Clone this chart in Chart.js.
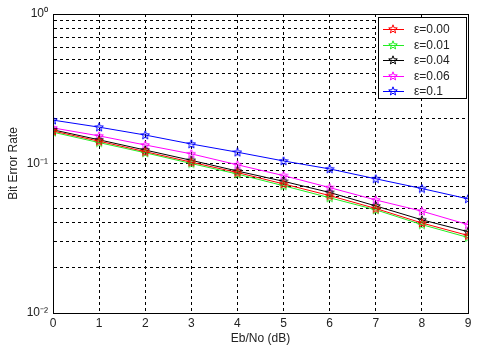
<!DOCTYPE html>
<html>
<head>
<meta charset="utf-8">
<script src="https://cdn.jsdelivr.net/npm/chart.js@4"></script>
<style>
  html, body { margin: 0; padding: 0; background: #fff; }
  #wrap { width: 477px; height: 347px; }
</style>
</head>
<body>
<div id="wrap"><canvas id="berChart" width="477" height="347"></canvas></div>
<script>
// Eb/No (dB) points
const ebno = [0, 1, 2, 3, 4, 5, 6, 7, 8, 9];

// BER values per epsilon
const ber000 = [0.165, 0.141, 0.120, 0.102, 0.087, 0.073, 0.061, 0.050, 0.040, 0.033];
const ber001 = [0.162, 0.138, 0.118, 0.100, 0.085, 0.071, 0.059, 0.049, 0.039, 0.032];
const ber004 = [0.168, 0.144, 0.123, 0.105, 0.089, 0.076, 0.064, 0.052, 0.042, 0.035];
const ber006 = [0.173, 0.153, 0.133, 0.116, 0.098, 0.083, 0.069, 0.057, 0.048, 0.039];
const ber010 = [0.195, 0.175, 0.155, 0.135, 0.119, 0.104, 0.092, 0.079, 0.068, 0.058];

const seriesNames = ['\u03b5=0.00', '\u03b5=0.01', '\u03b5=0.04', '\u03b5=0.06', '\u03b5=0.1'];
const seriesColors = ['#ff0000', '#22ee22', '#000000', '#ff00ff', '#0000ff'];
const seriesData = [ber000, ber001, ber004, ber006, ber010];

// y grid ticks: every 1..9 x decade between 1e-2 and 1
const decades = [0.01, 0.1];
const yTickLabels = { '1': '10\u2070', '0.1': '10\u207b\u00b9', '0.01': '10\u207b\u00b2' };

const FONT = '"Liberation Sans", Arial, sans-serif';

// matlab-like pentagram marker
function starMarker(color) {
    const c = document.createElement('canvas');
    c.width = 10; c.height = 10;
    const g = c.getContext('2d');
    g.strokeStyle = color;
    g.lineWidth = 1;
    g.beginPath();
    for (let i = 0; i < 10; i++) {
        const r = i % 2 === 0 ? 4.5 : 1.9;
        const a = -Math.PI / 2 + i * Math.PI / 5;
        const px = 5 + r * Math.cos(a);
        const py = 5.3 + r * Math.sin(a);
        if (i === 0) g.moveTo(px, py); else g.lineTo(px, py);
    }
    g.closePath();
    g.stroke();
    return c;
}

const markers = seriesColors.map(starMarker);

const datasets = seriesData.map(function (vals, i) {
    return {
        label: seriesNames[i],
        data: vals.map(function (v, j) { return { x: ebno[j], y: v }; }),
        borderColor: seriesColors[i],
        backgroundColor: seriesColors[i],
        borderWidth: 1,
        pointStyle: markers[i],
        pointRadius: 5,
        tension: 0
    };
});

// box around plot + legend inside top right
const boxPlugin = {
    id: 'boxPlugin',
    afterDatasetsDraw(chart) {
        const ctx = chart.ctx;
        const a = chart.chartArea;
        ctx.save();
        ctx.strokeStyle = '#000';
        ctx.lineWidth = 1;
        ctx.setLineDash([]);
        ctx.strokeRect(Math.round(a.left) + 0.5, Math.round(a.top) + 0.5,
            Math.round(a.right - a.left), Math.round(a.bottom - a.top));

        // legend
        const lx = 378, ly = 17, lw = 88, lh = 81;
        ctx.fillStyle = '#fff';
        ctx.fillRect(lx, ly, lw, lh);
        ctx.strokeStyle = '#000';
        ctx.strokeRect(lx + 0.5, ly + 0.5, lw, lh);
        ctx.font = '12px ' + FONT;
        ctx.textBaseline = 'middle';
        for (let i = 0; i < seriesNames.length; i++) {
            const y = ly + 12 + i * 15.5;
            ctx.strokeStyle = seriesColors[i];
            ctx.beginPath();
            ctx.moveTo(383, Math.round(y) + 0.5);
            ctx.lineTo(404, Math.round(y) + 0.5);
            ctx.stroke();
            ctx.drawImage(markers[i], 388, Math.round(y) - 5);
            ctx.fillStyle = '#222';
            ctx.fillText(seriesNames[i], 414, y + 1);
        }
        ctx.restore();
    }
};

const ctx = document.getElementById('berChart').getContext('2d');

new Chart(ctx, {
    type: 'line',
    data: { datasets: datasets },
    options: {
        responsive: false,
        animation: false,
        layout: { padding: { left: 0, right: 9, top: 14, bottom: 0 } },
        plugins: {
            legend: { display: false },
            tooltip: { enabled: false }
        },
        scales: {
            x: {
                type: 'linear',
                min: 0,
                max: 9,
                ticks: { stepSize: 1, color: '#222', font: { family: FONT, size: 12 }, padding: 3, maxRotation: 0 },
                grid: { color: '#000', lineWidth: 1, drawTicks: false },
                border: { dash: [3, 3], color: '#000' },
                title: { display: true, text: 'Eb/No (dB)', color: '#222', font: { family: FONT, size: 12 }, padding: { top: 0, bottom: 1 } },
                afterFit(scale) { scale.height = 34; }
            },
            y: {
                type: 'logarithmic',
                min: 0.01,
                max: 1,
                afterBuildTicks(scale) {
                    const t = [];
                    decades.forEach(function (d) {
                        for (let k = 1; k <= 9; k++) t.push({ value: +(d * k).toFixed(4) });
                    });
                    t.push({ value: 1 });
                    scale.ticks = t;
                },
                ticks: {
                    autoSkip: false,
                    color: '#222',
                    font: { family: FONT, size: 12 },
                    padding: 5,
                    callback(v) { return yTickLabels[String(v)] || ''; }
                },
                grid: { color: '#000', lineWidth: 1, drawTicks: false },
                border: { dash: [3, 3], color: '#000' },
                title: { display: true, text: 'Bit Error Rate', color: '#222', font: { family: FONT, size: 12 }, padding: { top: 6, bottom: 0 } },
                afterFit(scale) { scale.width = 53; }
            }
        }
    },
    plugins: [boxPlugin]
});
</script>
</body>
</html>
